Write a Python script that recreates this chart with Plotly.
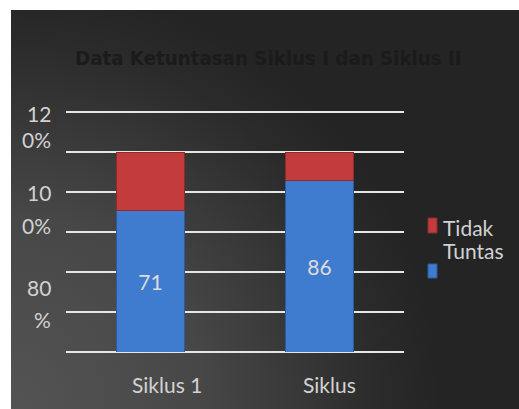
import base64
import plotly.graph_objects as go

# ---- data ----
categories = ["Siklus 1", "Siklus"]
tuntas = [71, 86]
tidak_tuntas = [29, 14]
tuntas_labels = ["71", "86"]
series_names = ["Tuntas", "Tidak Tuntas"]
title_text = "Data Ketuntasan Siklus I dan Siklus II"
y_label_lines = ["12", "0%", "10", "0%", "80", "%"]
y_label_vals = [119.2, 106.5, 79.8, 63.3, 32.5, 16.5]
x_label_shift = [16, 10]

W, H = 519, 409
L, R, T, B = 66, 115, 110, 57
PW, PH = W - L - R, H - T - B


def px_x(p):
    return (p - L) / PW


def px_y(p):
    return (H - B - p) / PH


svg = (
    "<svg xmlns='http://www.w3.org/2000/svg' width='508' height='399' "
    "viewBox='0 0 508 399' preserveAspectRatio='none'><defs>"
    "<radialGradient id='g' cx='0' cy='399' r='430' gradientUnits='userSpaceOnUse'>"
    "<stop offset='0' stop-color='#545454'/><stop offset='0.45' stop-color='#474747'/>"
    "<stop offset='0.85' stop-color='#2b2b2b'/><stop offset='1' stop-color='#242424'/>"
    "</radialGradient></defs><rect width='508' height='399' fill='url(#g)'/></svg>"
)
svg_uri = "data:image/svg+xml;base64," + base64.b64encode(svg.encode()).decode()

font_main = "Lato, 'Open Sans', sans-serif"
label_color = "#d2d2d2"
fig = go.Figure()
fig.add_trace(go.Bar(
    x=categories, y=tuntas, name=series_names[0],
    marker=dict(color="#3f7ccf", line=dict(color="#2d5a9a", width=1)),
    text=tuntas_labels, textposition="inside", insidetextanchor="middle",
    textfont=dict(color="#dcdcdc", size=21, family=font_main),
    width=0.4,
))
fig.add_trace(go.Bar(
    x=categories, y=tidak_tuntas, name=series_names[1],
    marker=dict(color="#c43b3b", line=dict(color="#8e2a2a", width=1)),
    width=0.4, textposition="none",
))

annotations = [
    dict(text="<b>" + title_text + "</b>", xref="paper", yref="paper", x=px_x(268), y=px_y(58),
         showarrow=False, xanchor="center", yanchor="middle",
         font=dict(family="'Liberation Sans Narrow', 'DejaVu Sans Condensed', sans-serif",
                   size=20.3, color="#1b1b1b")),
]
for t, v in zip(y_label_lines, y_label_vals):
    annotations.append(dict(text=t, xref="paper", yref="y", x=0, y=v, xshift=-13,
                            xanchor="right", yanchor="middle", showarrow=False,
                            font=dict(family=font_main, size=21, color=label_color)))
for c, s in zip(categories, x_label_shift):
    annotations.append(dict(text=c, xref="x", yref="paper", x=c, y=px_y(385), xshift=s,
                            xanchor="center", yanchor="middle", showarrow=False,
                            font=dict(family=font_main, size=21, color=label_color)))
# legend text
annotations.append(dict(text="Tidak", xref="paper", yref="paper", x=px_x(441), y=px_y(227),
                        xanchor="left", yanchor="middle", showarrow=False,
                        font=dict(family=font_main, size=21, color=label_color)))
annotations.append(dict(text="Tuntas", xref="paper", yref="paper", x=px_x(441), y=px_y(250),
                        xanchor="left", yanchor="middle", showarrow=False,
                        font=dict(family=font_main, size=21, color=label_color)))

shapes = [
    dict(type="rect", xref="paper", yref="paper", x0=px_x(428), x1=px_x(437),
         y0=px_y(233), y1=px_y(218), fillcolor="#c43b3b", line=dict(color="#8e2a2a", width=1)),
    dict(type="rect", xref="paper", yref="paper", x0=px_x(428), x1=px_x(437),
         y0=px_y(278), y1=px_y(264), fillcolor="#3f7ccf", line=dict(color="#2d5a9a", width=1)),
]

fig.update_layout(
    width=W, height=H, barmode="stack", showlegend=False,
    margin=dict(l=L, r=R, t=T, b=B, pad=0),
    paper_bgcolor="white", plot_bgcolor="rgba(0,0,0,0)",
    images=[dict(source=svg_uri, xref="paper", yref="paper",
                 x=px_x(11), y=px_y(10), sizex=(W - 11) / PW, sizey=(H - 10) / PH,
                 xanchor="left", yanchor="top", sizing="stretch", layer="below")],
    annotations=annotations, shapes=shapes,
    xaxis=dict(range=[-0.5, 1.5], showticklabels=False, showgrid=False,
               zeroline=False, showline=False, fixedrange=True),
    yaxis=dict(range=[0, 121], tickvals=[0, 20, 40, 60, 80, 100, 120],
               showticklabels=False, showgrid=True, gridcolor="#e6e6e6", gridwidth=2,
               zeroline=True, zerolinecolor="#e6e6e6", zerolinewidth=2, showline=False,
               fixedrange=True),
)

fig.write_html("out.html", config={"displayModeBar": False},
               post_script="document.body.style.margin='0';document.body.style.padding='0';")
